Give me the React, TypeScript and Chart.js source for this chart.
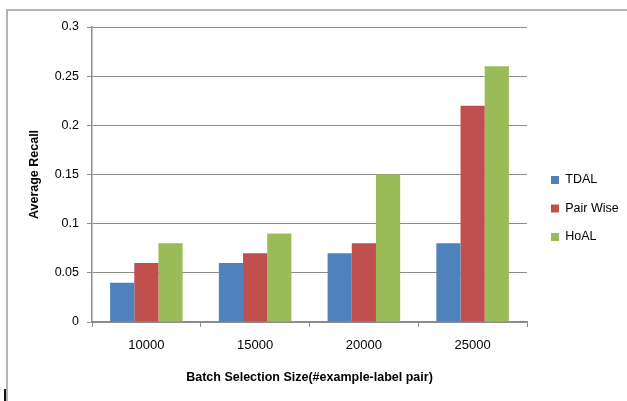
import React, { useEffect, useRef } from "react";
import { Chart, registerables } from "chart.js";

Chart.register(...registerables);

// Batch sizes on the x axis and average recall per method
const batchSizes = ["10000", "15000", "20000", "25000"];
const tdal = [0.04, 0.06, 0.07, 0.08];
const pairWise = [0.06, 0.07, 0.08, 0.22];
const hoal = [0.08, 0.09, 0.15, 0.26];

const FONT = "'Liberation Sans', Arial, sans-serif";
const AXIS_GREY = "#8c8c8c";

// Light frame around the whole figure, plus the short dark stroke at its lower left
const framePlugin = {
  id: "frame",
  beforeDraw(chart: Chart) {
    const { ctx, width, height } = chart;
    ctx.save();
    ctx.fillStyle = "#ffffff";
    ctx.fillRect(0, 0, width, height);
    ctx.strokeStyle = "#b4b4b4";
    ctx.lineWidth = 2;
    ctx.beginPath();
    ctx.moveTo(7, height);
    ctx.lineTo(7, 10);
    ctx.lineTo(width, 10);
    ctx.stroke();
    ctx.fillStyle = "#111111";
    ctx.fillRect(4, 389, 2, height - 389);
    ctx.restore();
  },
};

export default function App() {
  const canvasRef = useRef<HTMLCanvasElement | null>(null);

  useEffect(() => {
    const canvas = canvasRef.current;
    if (!canvas) return;
    const chart = new Chart(canvas, {
      type: "bar",
      data: {
        labels: batchSizes,
        datasets: [
          { label: "TDAL", data: tdal, backgroundColor: "#4F81BD" },
          { label: "Pair Wise", data: pairWise, backgroundColor: "#C0504D" },
          { label: "HoAL", data: hoal, backgroundColor: "#9BBB59" },
        ],
      },
      options: {
        responsive: false,
        animation: false,
        devicePixelRatio: 1,
        datasets: {
          bar: { categoryPercentage: 0.667, barPercentage: 1.0 },
        },
        layout: { padding: { top: 27, bottom: 11, left: 0, right: 2 } },
        plugins: {
          tooltip: { enabled: false },
          legend: {
            position: "right",
            align: "center",
            maxWidth: 90,
            labels: {
              boxWidth: 8,
              boxHeight: 8,
              padding: 16,
              color: "#000000",
              font: { family: FONT, size: 12.5 },
            },
          },
        },
        scales: {
          x: {
            grid: {
              drawOnChartArea: false,
              drawTicks: true,
              tickLength: 5,
              color: AXIS_GREY,
              offset: true,
            },
            border: { color: AXIS_GREY, width: 1.5 },
            ticks: {
              color: "#000000",
              padding: 11,
              font: { family: FONT, size: 13 },
              maxRotation: 0,
            },
            title: {
              display: true,
              text: "Batch Selection Size(#example-label pair)",
              color: "#000000",
              font: { family: FONT, size: 12.5, weight: "bold" },
              padding: { top: 0, bottom: 5 },
            },
            afterFit: (scale: any) => {
              scale.height = 68;
            },
          },
          y: {
            min: 0,
            max: 0.3,
            ticks: {
              stepSize: 0.05,
              color: "#000000",
              padding: 8,
              font: { family: FONT, size: 12.5 },
              callback: (v: any) => String(Math.round(Number(v) * 100) / 100),
            },
            grid: { color: AXIS_GREY, tickLength: 5, lineWidth: 1 },
            border: { color: AXIS_GREY, width: 1.5 },
            title: {
              display: true,
              text: "Average Recall",
              color: "#000000",
              font: { family: FONT, size: 12.5, weight: "bold" },
              padding: { top: 27, bottom: 0 },
            },
            afterFit: (scale: any) => {
              scale.width = 92;
            },
          },
          gap: {
            position: "right",
            display: true,
            grid: { display: false },
            border: { display: false },
            ticks: { display: false },
            afterFit: (scale: any) => {
              scale.width = 8;
            },
          },
        },
      },
      plugins: [framePlugin],
    });
    return () => chart.destroy();
  }, []);

  return (
    <div style={{ position: "fixed", left: 0, top: 0, width: 627, height: 401, background: "#fff" }}>
      <canvas ref={canvasRef} width={627} height={401} style={{ display: "block" }} />
    </div>
  );
}
